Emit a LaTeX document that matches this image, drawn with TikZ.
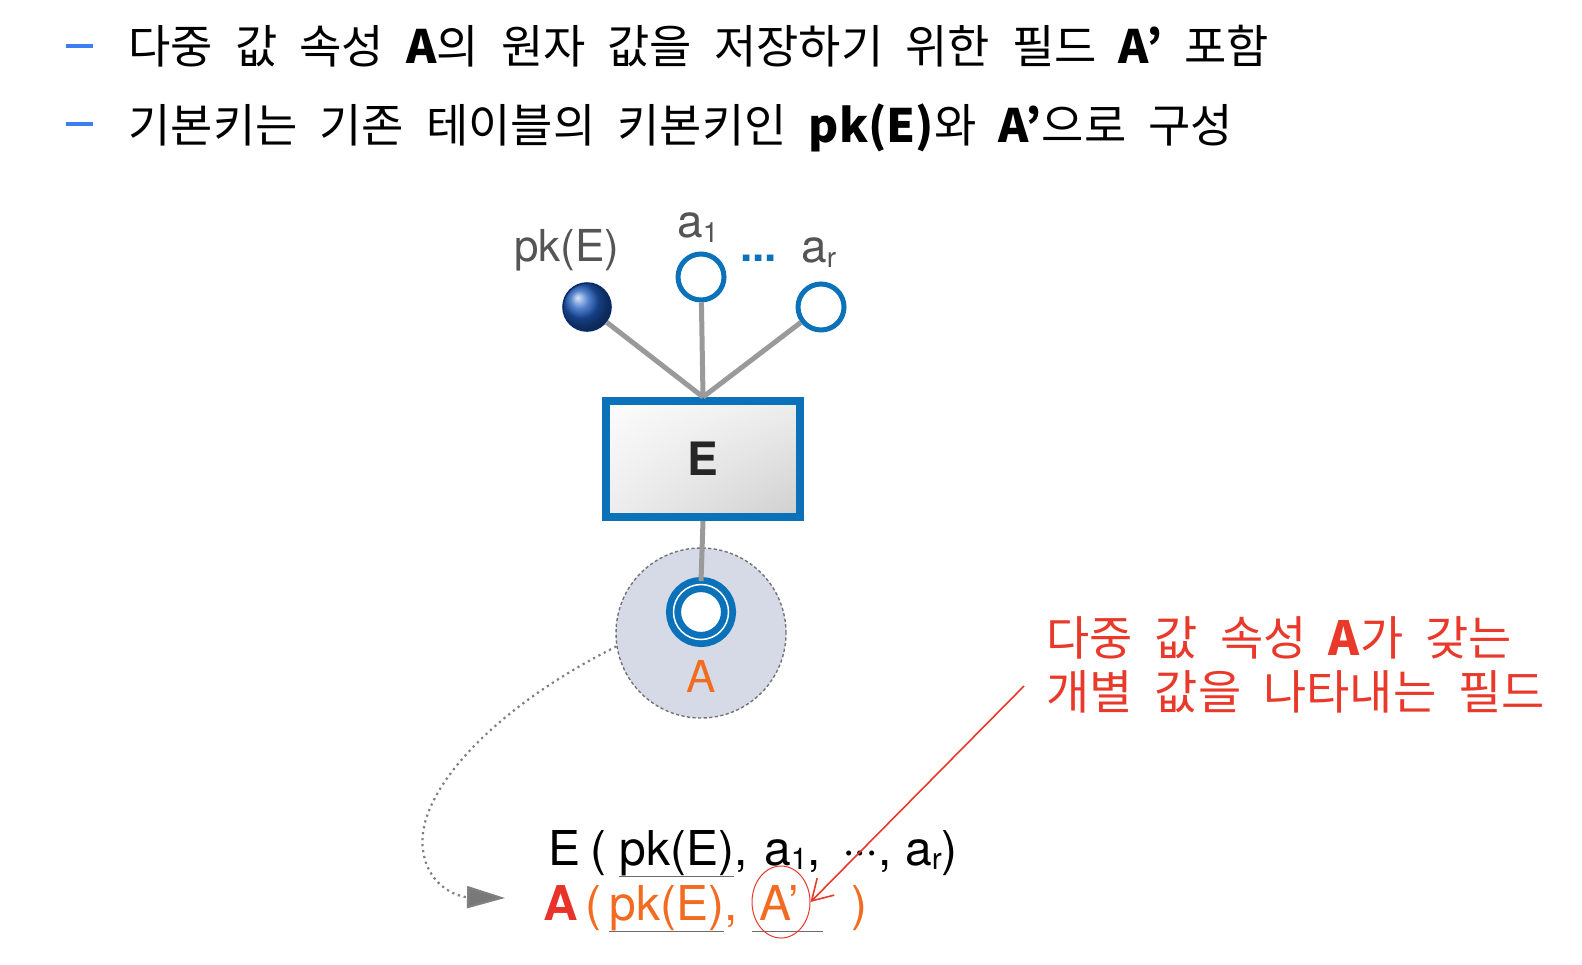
\documentclass[tikz,border=0pt]{standalone}
\usepackage{fontspec}
\setmainfont{Noto Sans CJK KR}
\newfontfamily\hv{TeX Gyre Heros}
\usetikzlibrary{arrows.meta,shapes.geometric,shadings}
\definecolor{bblue}{HTML}{0B72BA}
\definecolor{bulletblue}{HTML}{3D7EF2}
\definecolor{conn}{HTML}{9A9A9A}
\definecolor{lblgray}{HTML}{555555}
\definecolor{orng}{HTML}{F26B21}
\definecolor{redA}{HTML}{E8322A}
\definecolor{annot}{HTML}{E8392B}
\definecolor{halo}{HTML}{D5DAE6}
\definecolor{navy}{HTML}{0A2A6E}
\definecolor{ballblue}{HTML}{1E5CC0}
\newcommand\subx[1]{\raisebox{-2pt}{\fontsize{15}{15}\selectfont #1}}
\newcommand\subt[1]{\raisebox{-2.5pt}{\fontsize{14}{14}\selectfont #1}}
\newcommand\kspace{\spaceskip=11pt\relax}
\tikzset{
  bulletbar/.style={rectangle, fill=bulletblue, minimum width=13.5pt, minimum height=2pt, inner sep=0},
  toptext/.style={anchor=base west, inner sep=0, font=\fontsize{23}{28}\selectfont, execute at begin node=\kspace},
  annottext/.style={anchor=base west, inner sep=0, text=annot, font=\fontsize{23.5}{28}\selectfont, execute at begin node=\kspace},
  halocirc/.style={circle, minimum size=85pt, inner sep=0, fill=halo, draw=gray!90!black, line width=0.7pt, dash pattern=on 1.6pt off 1.2pt},
  pkball/.style={circle, minimum size=24pt, inner sep=0, ball color=ballblue, draw=navy, line width=0.8pt},
  attr/.style={circle, minimum size=23pt, inner sep=0, draw=bblue, line width=2.5pt, fill=white},
  mvattr/.style={circle, minimum size=27.5pt, inner sep=0, draw=bblue, line width=3.4pt, double=white, double distance=0.75pt, fill=white},
  entity/.style={rectangle, draw=bblue, line width=4pt, minimum width=97pt, minimum height=58pt, inner sep=0,
     upper left=gray!2, upper right=gray!14, lower left=gray!14, lower right=gray!38,
     font=\hv\bfseries\fontsize{23}{23}\selectfont, text=black!85},
  conn/.style={draw=conn, line width=2.5pt},
  toplbl/.style={anchor=base west, inner sep=0, text=lblgray, font=\hv\fontsize{22}{22}\selectfont},
  rowtxt/.style={anchor=base west, inner sep=0, text depth=5pt, font=\hv\fontsize{24}{24}\selectfont},
  uline/.style={draw=gray!85!black, line width=0.9pt},
  curvearrow/.style={draw=gray, line width=1.1pt, dash pattern=on 1.1pt off 1.9pt, -{Triangle[length=19pt,width=11pt,fill=gray!95!black]}},
  redarrow/.style={draw=annot, line width=0.8pt, -{Straight Barb[length=10pt,width=12pt]}},
  ovalmark/.style={ellipse, draw=annot, line width=0.5pt, minimum width=29pt, minimum height=36pt, inner sep=0}
}
\begin{document}
\begin{tikzpicture}[x={(0.5pt,0)}, y={(0,-0.5pt)}]
\fill[white] (0,0) rectangle (1582,964);
\path[use as bounding box] (0,0) rectangle (1582,964);

% bullet lines
\node[bulletbar] (b1) at (79.5,46) {};
\node[bulletbar] (b2) at (79.5,124) {};
\node[toptext] (t1) at (128,63) {다중 값 속성 \textbf{A}의 원자 값을 저장하기 위한 필드 \textbf{A’} 포함};
\node[toptext] (t2) at (128,142) {기본키는 기존 테이블의 키본키인 \textbf{pk(E)}와 \textbf{A’}으로 구성};

% diagram
\node[halocirc] (ac) at (701,633) {};
\node[pkball] (pk) at (587,307) {};
\node[attr] (a1) at (701,277) {};
\node[attr] (ar) at (821,307) {};
\node[entity] (E) at (703,459) {E};
\node[mvattr] (A) at (701,612) {};
\node[text=orng, font=\hv\fontsize{22}{22}\selectfont, inner sep=0] (Alab) at (701,676) {A};

\draw[conn] (pk) -- (E.north);
\draw[conn] (a1) -- (E.north);
\draw[conn] (ar) -- (E.north);
\draw[conn] (E.south) -- (A.north);

\node[toplbl] (pkl) at (514,261) {pk(E)};
\node[toplbl, font=\hv\fontsize{23}{23}\selectfont] (a1l) at (677,237) {a\subt{1}};
\node[toplbl, font=\hv\fontsize{23}{23}\selectfont] (arl) at (801,262) {a\subt{r}};
\node[toplbl, text=bblue, font=\hv\bfseries\fontsize{22}{22}\selectfont] (dots) at (740,261) {...};

% relation rows
\node[rowtxt] (r1a) at (548,865) {E};
\node[rowtxt] (r1p) at (590,865) {(};
\node[rowtxt] (r1pk) at (619,865) {pk(E)};
\node[rowtxt] (r1b) at (r1pk.base east) {,\hspace{8pt}a\subx{1},};
\node[rowtxt] (r1c) at (842,865) {·\kern-1pt·\kern-1pt·, a\subx{r})};
\draw[uline] ([yshift=-0.5pt]r1pk.south west) -- ([yshift=-0.5pt]r1pk.south east);

\node[rowtxt, text=redA, font=\hv\bfseries\fontsize{24}{24}\selectfont] (r2A) at (543,920) {A};
\node[rowtxt, text=orng] (r2b) at (585,920) {(};
\node[rowtxt, text=orng] (r2pk) at (609,920) {pk(E)};
\node[rowtxt, text=orng] (r2c) at (r2pk.base east) {,};
\node[rowtxt, text=orng] (ap) at (759,920) {A’};
\node[rowtxt, text=orng] (r2d) at (851,920) {)};
\draw[uline] ([yshift=-0.5pt]r2pk.south west) -- ([yshift=-0.5pt]r2pk.south east);
\draw[uline] ([xshift=-3.5pt,yshift=-0.5pt]ap.south west) -- ([xshift=12pt,yshift=-0.5pt]ap.south east);

\node[ovalmark] (ov) at (781,902) {};

% dotted curved arrow
\coordinate (tip) at (505,898);
\draw[curvearrow] (ac.189) .. controls (480,715) and (415,800) .. (423,850) .. controls (428,888) and (460,897) .. (tip);

% annotation
\node[annottext] (n1) at (1046,655) {다중 값 속성 \textbf{A}가 갖는};
\node[annottext] (n2) at (1046,709) {개별 값을 나타내는 필드};
\coordinate (rs) at (1024,686);
\draw[redarrow] (rs) -- (ov.east);
\end{tikzpicture}
\end{document}
